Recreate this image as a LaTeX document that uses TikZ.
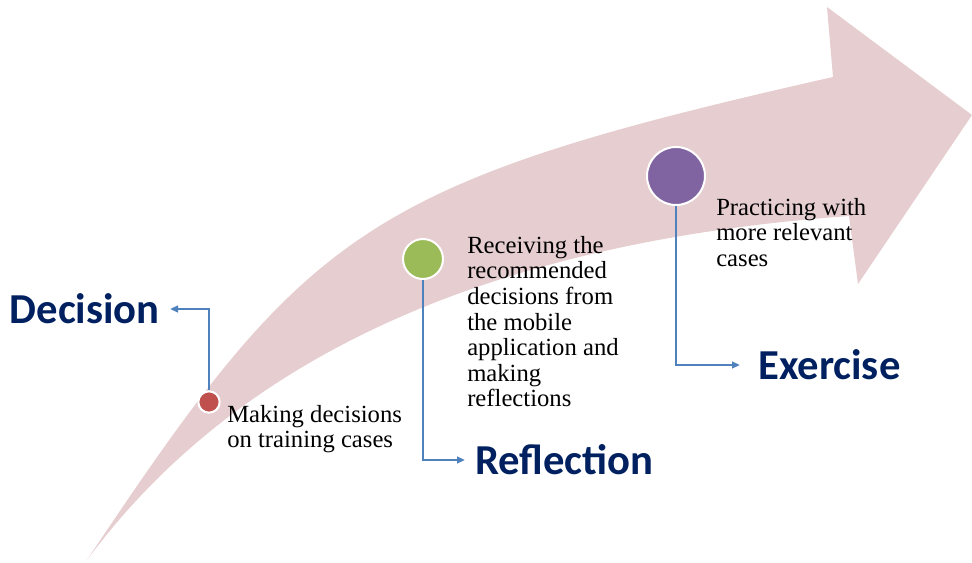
\documentclass[tikz,border=0pt]{standalone}
\usepackage{fontspec}
\setmainfont{Liberation Serif}
\newfontfamily\titlefont{Carlito}
\usepackage{xcolor}
\usetikzlibrary{arrows.meta}

\definecolor{arrowpink}{RGB}{230,205,208}
\definecolor{titlenavy}{RGB}{0,32,96}
\definecolor{linkblue}{RGB}{79,129,189}
\definecolor{dotred}{RGB}{192,80,77}
\definecolor{dotgreen}{RGB}{155,187,89}
\definecolor{dotpurple}{RGB}{128,100,162}

\begin{document}
\begin{tikzpicture}[x=0.75pt,y=0.75pt,yscale=-1,xscale=1,
  stagedot/.style={circle,draw=white,line width=1.5pt,inner sep=0pt},
  stagetitle/.style={font=\titlefont\bfseries\fontsize{32}{36}\selectfont,text=titlenavy,inner ysep=0pt},
  stagetext/.style={font=\fontsize{18.5}{19.2}\selectfont,align=left,anchor=north west,inner sep=0pt},
  stagelink/.style={draw=linkblue,line width=1.5pt,-{Triangle[length=6pt,width=5pt]}}]
%set diagram left start at 0, and has height of 563
\useasboundingbox (0,0) rectangle (972,563);

%Shape: Curved Arrow [id:dp_arrow]
\fill [arrowpink] (87,560) .. controls (307,230) and (363,183) .. (833,77) -- (827,7) -- (972,115) -- (858,284) -- (849,216) .. controls (520,240) and (250,340) .. (87,560) -- cycle ;

%Shape: Circle [id:dp_red]
\node [stagedot,fill=dotred,minimum size=16pt] (decisiondot) at (209,402) {};
%Shape: Circle [id:dp_green]
\node [stagedot,fill=dotgreen,minimum size=30pt] (reflectiondot) at (423,259) {};
%Shape: Circle [id:dp_purple]
\node [stagedot,fill=dotpurple,minimum size=43.5pt] (exercisedot) at (676,176) {};

% Text Node
\node [stagetitle,anchor=east,inner xsep=7.5pt] (decision) at (170,309) {Decision};
% Text Node
\node [stagetitle,anchor=west,inner xsep=7.5pt] (reflection) at (465,460) {Reflection};
% Text Node
\node [stagetitle,anchor=west,inner xsep=13.5pt] (exercise) at (740,365) {Exercise};

% Text Node
\node [stagetext] (decisiontext) at (227,405) {Making decisions\\on training cases};
% Text Node
\node [stagetext] (reflectiontext) at (467,236) {Receiving the\\recommended\\decisions from\\the mobile\\application and\\making\\reflections};
% Text Node
\node [stagetext] (exercisetext) at (716,198) {Practicing with\\more relevant\\cases};

%Straight Lines [id:da_links]
\draw [stagelink] (decisiondot.north) |- (decision.east) ;
\draw [stagelink] (reflectiondot.south) |- (reflection.west) ;
\draw [stagelink] (exercisedot.south) |- (exercise.west) ;

\end{tikzpicture}
\end{document}
